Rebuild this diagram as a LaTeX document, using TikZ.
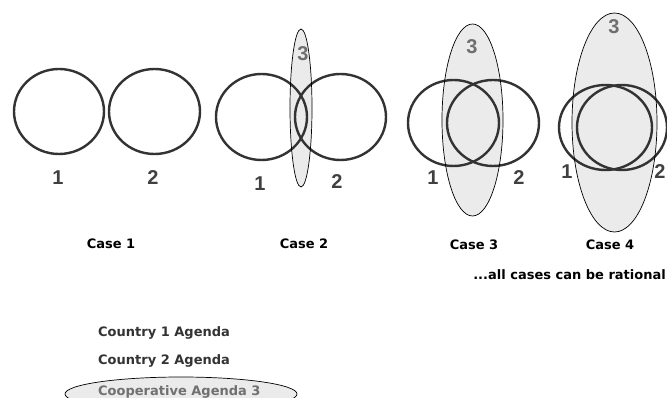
\documentclass[tikz,border=0pt]{standalone}
\usepackage{fontspec}
\setmainfont{DejaVu Sans}
\newfontfamily\digitfont{Liberation Sans}
\definecolor{ringc}{HTML}{333333}
\definecolor{numc}{HTML}{404040}
\definecolor{threec}{HTML}{6E6E6E}
\definecolor{agfill}{HTML}{EBEBEB}
\definecolor{coopc}{HTML}{707070}
\tikzset{
  ring/.style={draw=ringc, line width=2.4pt},
  agenda/.style={draw=black, line width=0.7pt, fill=agfill},
  num/.style={font=\digitfont\bfseries\fontsize{20}{20}\selectfont, text=numc, inner sep=0pt},
  numthree/.style={num, text=threec},
  caselbl/.style={font=\bfseries\fontsize{13}{13}\selectfont, text=black, inner sep=0pt},
  legend/.style={font=\bfseries\fontsize{13}{13}\selectfont, text=ringc, inner sep=0pt, anchor=west},
}
\begin{document}
\begin{tikzpicture}[x=1pt,y=-1pt]
\useasboundingbox (0,0) rectangle (667,398);
% Case 1
\draw[ring] (59,111.5) ellipse [x radius=45pt, y radius=42.5pt];
\draw[ring] (154.5,111.5) ellipse [x radius=45.5pt, y radius=42.5pt];
\node[num] (c1a) at (58,178) {1};
\node[num] (c1b) at (153,178) {2};
\node[caselbl] (case1) at (111,244) {Case 1};
% Case 2
\fill[agfill] (301,108) ellipse [x radius=11pt, y radius=79pt];
\draw[ring] (261.5,117) ellipse [x radius=45.5pt, y radius=43pt];
\draw[ring] (340.5,117) ellipse [x radius=45.5pt, y radius=43pt];
\draw[line width=0.7pt] (301,108) ellipse [x radius=11pt, y radius=79pt];
\node[numthree] (c2c) at (303,54) {3};
\node[num] (c2a) at (260,184) {1};
\node[num] (c2b) at (337,182) {2};
\node[caselbl] (case2) at (304,244) {Case 2};
% Case 3
\fill[agfill] (472.5,120) ellipse [x radius=30.5pt, y radius=96pt];
\draw[ring] (453.5,123) ellipse [x radius=45.5pt, y radius=43pt];
\draw[ring] (493,123) ellipse [x radius=46pt, y radius=43pt];
\draw[line width=0.7pt] (472.5,120) ellipse [x radius=30.5pt, y radius=96pt];
\node[numthree] (c3c) at (472,47) {3};
\node[num] (c3a) at (433,178) {1};
\node[num] (c3b) at (519,178) {2};
\node[caselbl] (case3) at (474,245) {Case 3};
% Case 4
\fill[agfill] (614.5,122.5) ellipse [x radius=42.5pt, y radius=109.5pt];
\draw[ring] (605.5,127.5) ellipse [x radius=46.5pt, y radius=42.5pt];
\draw[ring] (622,127.5) ellipse [x radius=45pt, y radius=42.5pt];
\draw[line width=0.7pt] (614.5,122.5) ellipse [x radius=42.5pt, y radius=109.5pt];
\node[numthree] (c4c) at (614,27) {3};
\node[num] (c4a) at (567,172) {1};
\node[num] (c4b) at (660,172) {2};
\node[caselbl] (case4) at (610,245) {Case 4};
% note
\node[caselbl, anchor=east] (note) at (666,275) {...all cases can be rational};
% legend
\node[legend] (leg1) at (98,333) {Country 1 Agenda};
\node[legend] (leg2) at (98,361) {Country 2 Agenda};
\draw[agenda] (181,394) ellipse [x radius=116pt, y radius=17pt];
\node[legend, text=coopc] (leg3) at (98,392) {Cooperative Agenda 3};
\end{tikzpicture}
\end{document}
